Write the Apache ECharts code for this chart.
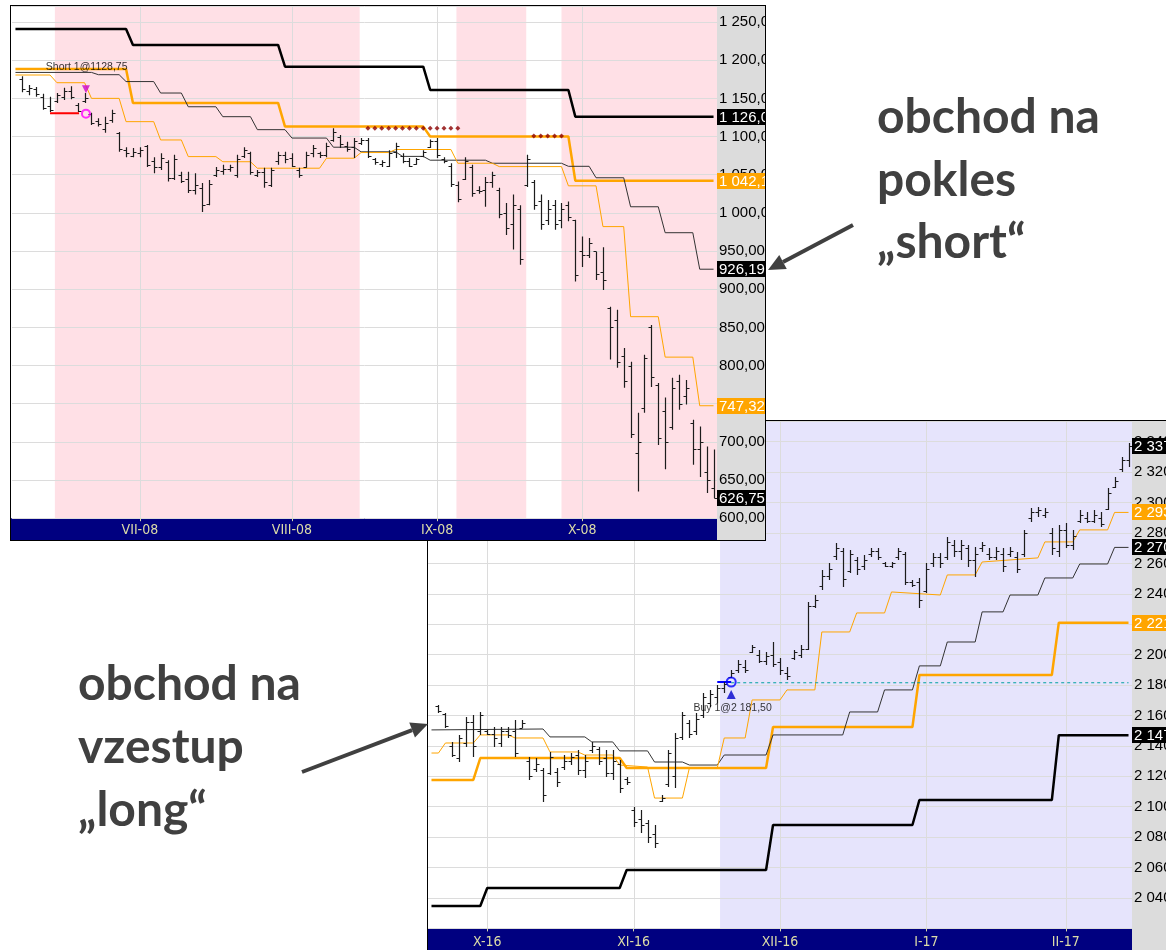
<!DOCTYPE html>
<html>
<head>
<meta charset="UTF-8" />
<title>obchod na pokles / vzestup</title>
<script src="https://cdn.jsdelivr.net/npm/echarts@6/dist/echarts.min.js"></script>
<style>
  html, body { margin: 0; padding: 0; width: 1166px; height: 950px; overflow: hidden; background: #fff; }
  #notes { position: absolute; left: 0; top: 0; width: 1166px; height: 950px; z-index: 3; pointer-events: none; }
  #longChart { position: absolute; left: 427px; top: 420px; width: 739px; height: 530px; box-sizing: border-box;
    border-left: 1px solid #000; border-top: 1px solid #000; background: #fff; z-index: 1; }
  #shortChart { position: absolute; left: 10px; top: 5px; width: 756px; height: 536px; box-sizing: border-box;
    border: 1px solid #000; background: #fff; z-index: 2; }
</style>
</head>
<body>
<div id="longChart"></div>
<div id="shortChart"></div>
<div id="notes"></div>
<script type="text/javascript">
// ---------- horní graf (2008, short) ----------
var topMonthIdx = [18, 40, 61, 82];
var topMonthLbl = ["VII-08", "VIII-08", "IX-08", "X-08"];
var topPink = [[5.7, 49.8], [63.8, 73.9], [79.0, 101.5]];
var topFirst = 1;
// [open, high, low, close]
var topBars = [
  [1176,1179,1158,1162],[1160,1167.5,1154,1163],[1162,1165,1152,1156],[1152,1156,1135,1138],[1140,1152,1132,1135],
  [1146,1157,1144,1155],[1152,1164,1148,1160],[1160,1166,1149,1152],[1141,1144,1132,1134],[1146,1157,1144,1150],
  [1129,1131,1115,1118],[1120,1124,1113,1116],[1110,1126,1105,1118],[1122,1135,1118,1131],[1104,1106,1080,1084],
  [1082,1086,1073,1078],[1075,1085,1073,1080],[1078,1086,1073,1083],[1087,1089,1060,1063],[1068,1073,1052,1060],
  [1060,1078,1056,1072],[1066,1069,1041,1046],[1046,1076,1043,1070],[1050,1054,1039,1042],[1045,1054,1026,1030],
  [1030,1052,1024,1036],[1032,1039,1001,1010],[1012,1043,1010,1038],[1050,1060,1047,1056],[1055,1063,1050,1058],
  [1058,1063,1054,1060],[1050,1076,1046,1070],[1075,1086,1072,1082],[1078,1080,1050,1054],[1050,1056,1047,1053],
  [1054,1059,1033,1040],[1036,1059,1034,1056],[1068,1080,1063,1076],[1076,1080,1065,1070],[1072,1078,1060,1062],
  [1056,1059,1046,1050],[1060,1080,1059,1076],[1078,1089,1073,1085],[1078,1080,1072,1076],[1076,1092,1073,1088],
  [1095,1111,1093,1106],[1100,1102,1085,1090],[1088,1093,1080,1084],[1086,1098,1072,1094],[1092,1098,1089,1096],
  [1096,1098,1072,1075],[1070,1072,1063,1066],[1064,1069,1060,1066],[1062,1082,1060,1078],[1080,1092,1072,1088],
  [1075,1078,1065,1068],[1068,1072,1060,1062],[1064,1072,1063,1070],[1075,1082,1073,1080],[1086,1096,1085,1094],
  [1094,1098,1072,1076],[1070,1073,1065,1068],[1062,1065,1034,1038],[1036,1041,1014,1018],[1045,1073,1043,1068],
  [1060,1063,1021,1026],[1030,1035,1025,1028],[1030,1047,1008,1040],[1040,1054,1033,1050],[1030,1033,993,998],
  [1000,1013,971,980],[985,1024,952,1010],[1005,1010,932,940],[1036,1076,1034,1070],[1040,1043,1004,1010],
  [1015,1024,978,985],[990,1017,984,1005],[1010,1017,978,985],[990,1013,980,1005],[1010,1015,989,995],
  [990,991,910,918],[950,969,929,945],[945,967,941,960],[950,949,912,920],[922,955,899,912],
  [875,877,808,850],[860,873,797,805],[812,823,771,780],[800,805,705,710],[685,738,635,700],
  [745,814,738,810],[850,853,772,785],[775,777,696,705],[740,758,664,700],[720,784,716,770],
  [780,788,742,750],[760,781,749,770],[725,729,670,690],[690,720,654,700],[660,694,633,650],
  [640,690,626,626.75]
];
var thickBlackTop = [[0,1240.8],[16,1240.8],[17,1220],[38,1220],[39,1191.5],[59,1191.5],[60,1161],[80,1161],[81,1126.05],[101,1126.05]];
var thickOrangeTop = [[0,1188.5],[16,1188.5],[17,1144],[38,1144],[39,1113],[59,1113],[60,1100],[80,1100],[81,1042.15],[101,1042.15]];
var thinBlackTop = [[0,1184],[11,1184],[12,1181],[15,1181],[16,1172],[20,1172],[21,1157],[24,1157],[25,1139],[29,1139],
  [30,1126],[34,1126],[35,1109],[39,1109],[40,1098],[45,1098],[46,1086],[49,1086],[50,1080],[55,1080],[56,1074],[59,1074],
  [60,1069],[68,1069],[69,1065],[79,1065],[80,1061],[83,1061],[84,1046],[88,1046],[89,1008],[93,1008],[94,974],[98,974],
  [99,926.19],[101,926.19]];
var thinOrangeTop = [[0,1180.6],[5,1180.6],[6,1170.5],[10,1170.5],[11,1150],[15,1150],[16,1119.5],[20,1119.5],[21,1095.5],
  [24,1095.5],[25,1073.7],[29,1073.7],[30,1067],[34,1067],[35,1058.5],[44,1058.5],[45,1071.6],[49,1071.6],[50,1079],[54,1079],
  [55,1083],[63,1083],[64,1065],[69,1065],[70,1060.6],[79,1060.6],[80,1035.4],[84,1035.4],[85,982],[88,982],[89,864],[93,864],
  [94,811],[98,811],[99,747.32],[101,747.32]];
var stopDots = [[51,1111],[52,1111],[53,1111],[54,1111],[55,1111],[56,1111],[57,1111],[58,1111],[59,1111],[60,1111],
  [61,1111],[62,1111],[63,1111],[64,1111],[75,1100.8],[76,1100.8],[77,1100.8],[78,1100.8],[79,1100.8]];
var shortEntryLine = [[5,1130.5],[9.2,1130.5]];
var shortSignal = [10.2, 1162];
var shortFill = [10.2, 1130];
var shortText = [10.3, 1191];

// ---------- dolní graf (2016/17, long) ----------
var longMonthIdx = [8, 29, 50, 71, 91];
var longMonthLbl = ["X-16", "XI-16", "XII-16", "I-17", "II-17"];
var longBlue = [[41.4, 100.5]];
var longFirst = 1;
var longBars = [
  [2166,2166.9,2161.6,2163],[2161,2161.6,2151.8,2153],[2140,2142.6,2132.7,2134],[2132,2147.2,2129.4,2145],[2142,2159,2139.3,2156],
  [2156,2160.3,2132.7,2140],[2150,2162.3,2147.2,2160],[2150,2150.5,2147.2,2148],[2148,2152.4,2139.3,2145],[2142,2152.4,2139.3,2150],
  [2150,2152.4,2145.2,2147],[2150,2157,2132.7,2135],[2152,2157,2151.8,2155],[2130,2132.7,2117.6,2120],[2125,2132,2122.8,2128],
  [2124,2125.5,2103.1,2108],[2122,2136,2120.9,2133],[2123,2125.5,2113,2116],[2126,2134,2124.2,2130],[2130,2135.3,2127.4,2133],
  [2134,2137.3,2120.9,2124],[2124,2134,2118.9,2130],[2137,2142.6,2135.3,2140],[2138,2139.3,2127.4,2130],[2132,2137.3,2119.6,2122],
  [2122,2137.3,2117.6,2130],[2128,2130.7,2109,2112],[2118,2119.6,2114.3,2116],[2098,2099.8,2086.7,2090],[2092,2097.9,2082.7,2088],
  [2089,2091.3,2076.2,2080],[2082,2088,2072.9,2076],[2104,2107.7,2103.1,2106],[2115,2137.3,2113,2135],[2120,2148.5,2112.3,2145],
  [2146,2162.3,2143.9,2160],[2155,2157,2145.2,2148],[2150,2161.6,2147.2,2158],[2160,2174.8,2158.4,2172],[2168,2176.8,2165.6,2174],
  [2172,2180,2168.2,2178],[2178,2182,2174.8,2181],[2185,2189.9,2184.7,2188],[2190,2196.5,2187.9,2194],[2192,2196.5,2187.9,2190],
  [2202,2206.3,2201.1,2205],[2200,2203.1,2194.5,2196],[2196,2201.8,2193.2,2199],[2200,2208.3,2191.9,2194],[2195,2197.8,2186.6,2190],
  [2188,2191.9,2183.3,2186],[2198,2203.1,2196.5,2202],[2200,2206.3,2197.8,2204],[2204,2234.6,2203.1,2232],[2232,2239.2,2230.7,2236],
  [2245,2255.7,2242.5,2252],[2252,2260.3,2249.1,2256],[2265,2273.4,2262.2,2270],[2268,2270.1,2244.5,2250],[2255,2268.8,2253.7,2266],
  [2262,2264.2,2252.4,2256],[2258,2265.5,2255.7,2262],[2266,2270.1,2264.2,2268],[2268,2270.1,2262.2,2264],[2260,2260.9,2257.6,2258],
  [2258,2260.9,2257,2260],[2264,2270.1,2262.2,2268],[2266,2267.5,2245.8,2248],[2248,2249.1,2244.5,2246],[2248,2250.4,2230.7,2236],
  [2242,2260.3,2240.5,2256],[2260,2266.8,2257.6,2264],[2264,2266.8,2257,2260],[2264,2277.4,2262.2,2274],[2272,2275.4,2264.2,2268],
  [2268,2275.4,2262.2,2272],[2270,2272.1,2257.6,2262],[2262,2270.8,2251.1,2266],[2270,2274.1,2267.5,2272],[2266,2270.1,2262.2,2264],
  [2264,2270.8,2262.2,2268],[2266,2270.1,2254.3,2258],[2266,2270.8,2264.2,2268],[2264,2267.5,2253.7,2256],[2266,2282,2264.2,2280],
  [2290,2296.4,2287.2,2294],[2294,2297.1,2290.5,2295],[2292,2296.4,2289.9,2294],[2280,2283.3,2265.5,2270],[2268,2285.2,2264.2,2282],
  [2282,2286.6,2270.1,2272],[2272,2282,2268.8,2278],[2288,2295.1,2286.6,2292],[2290,2293.8,2286.6,2288],[2288,2295.1,2286.6,2292],
  [2290,2293.8,2283.9,2286],[2296,2309.6,2295.1,2306],[2310,2316.8,2309.6,2314],[2322,2330,2320.1,2328],[2328,2339.2,2323.4,2337.25]
];
var thickBlackLong = [[0,2034.7],[7,2034.7],[8,2046.6],[27,2046.6],[28,2058.4],[48,2058.4],[49,2088],[69,2088],[70,2104.4],[89,2104.4],[90,2147],[100,2147]];
var thickOrangeLong = [[0,2117.6],[6,2117.6],[7,2132],[27,2132],[28,2125.5],[48,2125.5],[49,2152.4],[69,2152.4],[70,2186.6],[89,2186.6],[90,2221],[100,2221]];
var thinBlackLong = [[0,2150.5],[16,2151.1],[17,2145.9],[22,2145.9],[23,2142.6],[26,2142.6],[27,2136.7],[31,2136.7],[32,2129.4],
  [36,2129.4],[37,2127.4],[41,2127.4],[42,2134],[48,2134],[49,2147.2],[59,2147.2],[60,2162.3],[64,2162.3],[65,2176.8],[69,2176.8],
  [70,2192.6],[73,2192.6],[74,2208.3],[78,2208.3],[79,2228.1],[82,2228.1],[83,2239.2],[87,2239.2],[88,2250.4],[92,2250.4],
  [93,2259.6],[97,2259.6],[98,2270.5],[100,2270.5]];
var thinOrangeLong = [[0,2135.3],[1,2135.3],[2,2141.9],[6,2141.9],[7,2147.2],[11,2147.2],[12,2145.2],[16,2145.2],[17,2136],[21,2136],
  [22,2134],[26,2134],[27,2127.4],[31,2126.1],[32,2105.7],[36,2105.7],[37,2125.5],[41,2125.5],[42,2145.2],[45,2145.2],[46,2170.2],
  [50,2170.2],[51,2176.8],[55,2176.8],[56,2214.9],[60,2214.9],[61,2227.4],[65,2227.4],[66,2241.2],[73,2239.2],[74,2252.4],[78,2252.4],
  [79,2260.9],[87,2263.6],[88,2274.1],[92,2274.1],[93,2282],[97,2282],[98,2293.5],[100,2293.5]];
var longEntryLine = [[41,2182],[43,2182]];
var longStopLine = [[43,2181.5],[100,2181.5]];
var longSignal = [43, 2173.7];
var longFill = [43, 2182];
var longText = [43.2, 2164.9];

var ORANGE = "#ffa500";
var AXIS_FONT = '"Liberation Sans", Arial, sans-serif';
var DATE_FONT = '"Liberation Sans Narrow", "DejaVu Sans Condensed", sans-serif';

function fmt(v) {
  var p = v.toFixed(2).split(".");
  return p[0].replace(/\B(?=(\d{3})+(?!\d))/g, " ") + "," + p[1];
}
function last(a) { return a[a.length - 1]; }

function ohlcSeries(first, bars) {
  return {
    type: "custom", z: 5, clip: true, silent: true,
    encode: { x: 0, y: [1, 2, 3, 4] },
    data: bars.map(function (b, k) { return [first + k, b[0], b[1], b[2], b[3]]; }),
    renderItem: function (params, api) {
      var i = api.value(0);
      var o = api.coord([i, api.value(1)]);
      var h = api.coord([i, api.value(2)]);
      var l = api.coord([i, api.value(3)]);
      var c = api.coord([i, api.value(4)]);
      var x = Math.round(h[0]) + 0.5;
      var yo = Math.round(o[1]) + 0.5, yc = Math.round(c[1]) + 0.5;
      var st = { stroke: "#1c1c1c", lineWidth: 1.2 };
      return { type: "group", children: [
        { type: "line", shape: { x1: x, y1: h[1], x2: x, y2: l[1] }, style: st },
        { type: "line", shape: { x1: x - 3, y1: yo, x2: x, y2: yo }, style: st },
        { type: "line", shape: { x1: x, y1: yc, x2: x + 3, y2: yc }, style: st }
      ] };
    }
  };
}

function shadeSeries(regions, color) {
  return {
    type: "custom", z: -2, clip: true, silent: true,
    data: regions,
    renderItem: function (params, api) {
      var cs = params.coordSys;
      var a = api.coord([api.value(0), 0]);
      var b = api.coord([api.value(1), 0]);
      return { type: "rect", shape: { x: a[0], y: cs.y, width: b[0] - a[0], height: cs.height }, style: { fill: color } };
    }
  };
}

function monthLineSeries(idx) {
  return {
    type: "custom", z: -1, clip: true, silent: true,
    data: idx.map(function (v) { return [v, 0]; }),
    renderItem: function (params, api) {
      var cs = params.coordSys;
      var x = Math.round(api.coord([api.value(0), 0])[0]) + 0.5;
      return { type: "line", shape: { x1: x, y1: cs.y, x2: x, y2: cs.y + cs.height }, style: { stroke: "#dcdcdc", lineWidth: 1 } };
    }
  };
}

function lineSeries(data, color, width, z, dashed) {
  return {
    type: "line", data: data, z: z || 3, silent: true,
    symbol: "none", showSymbol: false,
    lineStyle: { color: color, width: width, type: dashed ? [3, 3] : "solid" }
  };
}

function tagSeries(tags) {
  return {
    type: "custom", z: 8, clip: false, silent: true,
    data: tags.map(function (t) { return [0, t.v]; }),
    renderItem: function (params, api) {
      var t = tags[params.dataIndex];
      var cs = params.coordSys;
      var y = Math.round(api.coord([0, api.value(1)])[1]);
      var x = cs.x + cs.width;
      return { type: "group", children: [
        { type: "rect", shape: { x: x, y: y - 8, width: 80, height: 16 }, style: { fill: t.bg } },
        { type: "text", x: x + 2, y: y + 1, style: { text: fmt(t.v), fill: t.fg, font: "15px " + AXIS_FONT,
          textVerticalAlign: "middle", verticalAlign: "middle" } }
      ] };
    }
  };
}

function xAxisOf(maxIdx, idx, lbl, margin) {
  return {
    type: "value", min: -0.5, max: maxIdx + 0.5,
    axisLine: { show: false },
    axisTick: { show: true, customValues: idx, length: 3, lineStyle: { color: "#d8d8b0" } },
    axisLabel: {
      customValues: idx, margin: margin, color: "#dcdca8", fontSize: 14, fontFamily: DATE_FONT,
      formatter: function (v) { var k = idx.indexOf(v); return k < 0 ? "" : lbl[k]; }
    },
    splitLine: { show: false }
  };
}

function yAxisOf(min, max, step, showMin) {
  return {
    type: "value", position: "right", min: min, max: max, interval: step,
    axisLine: { show: false }, axisTick: { show: false },
    axisLabel: { formatter: fmt, align: "left", margin: 2, color: "#000", fontSize: 15, fontFamily: AXIS_FONT,
      showMaxLabel: false, showMinLabel: showMin },
    splitLine: { show: true, lineStyle: { color: "#dcdcdc", width: 1 } }
  };
}

// ----- horní graf -----
var shortDom = document.getElementById("shortChart");
var shortChart = echarts.init(shortDom);
var sW = shortDom.clientWidth, sH = shortDom.clientHeight;
var sGrid = { left: 1, right: 48, top: 0, bottom: 21.8 };
shortChart.setOption({
  animation: false,
  grid: { left: sGrid.left, right: sGrid.right, top: sGrid.top, bottom: sGrid.bottom, outerBoundsMode: "none" },
  graphic: [
    { type: "rect", z: -10, shape: { x: sW - sGrid.right, y: 0, width: sGrid.right, height: sH }, style: { fill: "#dcdcdc" } },
    { type: "rect", z: -10, shape: { x: 0, y: sH - sGrid.bottom, width: sW - sGrid.right, height: sGrid.bottom }, style: { fill: "#000080" } }
  ],
  xAxis: xAxisOf(101, topMonthIdx, topMonthLbl, 5),
  yAxis: yAxisOf(600, 1271, 50, true),
  series: [
    shadeSeries(topPink, "#ffe0e6"),
    monthLineSeries(topMonthIdx),
    lineSeries(thickBlackTop, "#000", 2.5),
    lineSeries(thickOrangeTop, ORANGE, 2.5),
    lineSeries(thinBlackTop, "#333", 1),
    lineSeries(thinOrangeTop, ORANGE, 1),
    lineSeries(shortEntryLine, "#ff0000", 2, 4),
    ohlcSeries(topFirst, topBars),
    { type: "scatter", z: 6, silent: true, symbol: "diamond", symbolSize: 5, itemStyle: { color: "#8b0000" }, data: stopDots },
    { type: "scatter", z: 7, silent: true, symbol: "triangle", symbolRotate: 180, symbolSize: 8,
      itemStyle: { color: "#cc00cc" }, data: [shortSignal] },
    { type: "scatter", z: 7, silent: true, symbol: "circle", symbolSize: 8,
      itemStyle: { color: "rgba(0,0,0,0)", borderColor: "#ff00ff", borderWidth: 2 }, data: [shortFill] },
    { type: "scatter", z: 7, silent: true, symbolSize: 0, data: [shortText],
      label: { show: true, position: "inside", formatter: "Short 1@1128,75", color: "#000", fontSize: 10.5, fontFamily: AXIS_FONT } },
    tagSeries([
      { v: last(thickBlackTop)[1], bg: "#000", fg: "#fff" },
      { v: last(thickOrangeTop)[1], bg: ORANGE, fg: "#fff" },
      { v: last(thinBlackTop)[1], bg: "#000", fg: "#fff" },
      { v: last(thinOrangeTop)[1], bg: ORANGE, fg: "#fff" },
      { v: last(topBars)[3], bg: "#000", fg: "#fff" }
    ])
  ]
});

// ----- dolní graf -----
var longDom = document.getElementById("longChart");
var longChart = echarts.init(longDom);
var lW = longDom.clientWidth, lH = longDom.clientHeight;
var lGrid = { left: 0, right: 34, top: 0, bottom: 21.6 };
longChart.setOption({
  animation: false,
  grid: { left: lGrid.left, right: lGrid.right, top: lGrid.top, bottom: lGrid.bottom, outerBoundsMode: "none" },
  graphic: [
    { type: "rect", z: -10, shape: { x: lW - lGrid.right, y: 0, width: lGrid.right, height: lH }, style: { fill: "#dcdcdc" } },
    { type: "rect", z: -10, shape: { x: 0, y: lH - lGrid.bottom, width: lW - lGrid.right, height: lGrid.bottom }, style: { fill: "#000080" } }
  ],
  xAxis: xAxisOf(100, longMonthIdx, longMonthLbl, 7),
  yAxis: yAxisOf(2020, 2353.6, 20, false),
  series: [
    shadeSeries(longBlue, "#e6e4fc"),
    monthLineSeries(longMonthIdx),
    lineSeries(thickBlackLong, "#000", 2.5),
    lineSeries(thickOrangeLong, ORANGE, 2.5),
    lineSeries(thinBlackLong, "#333", 1),
    lineSeries(thinOrangeLong, ORANGE, 1),
    lineSeries(longStopLine, "#00a0a0", 1, 4, true),
    lineSeries(longEntryLine, "#0000ff", 2, 4),
    ohlcSeries(longFirst, longBars),
    { type: "scatter", z: 7, silent: true, symbol: "triangle", symbolSize: 9,
      itemStyle: { color: "#0000cc" }, data: [longSignal] },
    { type: "scatter", z: 7, silent: true, symbol: "circle", symbolSize: 9,
      itemStyle: { color: "rgba(0,0,0,0)", borderColor: "#0000ff", borderWidth: 2 }, data: [longFill] },
    { type: "scatter", z: 7, silent: true, symbolSize: 0, data: [longText],
      label: { show: true, position: "inside", formatter: "Buy 1@2 181,50", color: "#000", fontSize: 10.5, fontFamily: AXIS_FONT } },
    tagSeries([
      { v: last(longBars)[3], bg: "#000", fg: "#fff" },
      { v: last(thinOrangeLong)[1], bg: ORANGE, fg: "#fff" },
      { v: last(thinBlackLong)[1], bg: "#000", fg: "#fff" },
      { v: last(thickOrangeLong)[1], bg: ORANGE, fg: "#fff" },
      { v: last(thickBlackLong)[1], bg: "#000", fg: "#fff" }
    ])
  ]
});

// ----- popisky a šipky -----
var notes = echarts.init(document.getElementById("notes"));
var NOTE_FONT = "bold 48px Lato, 'Open Sans', sans-serif";
var NOTE_COLOR = "#404040";
function noteText(txt, x, y) {
  return { type: "text", x: x, y: y, style: { text: txt, font: NOTE_FONT, fill: NOTE_COLOR,
    textVerticalAlign: "middle", verticalAlign: "middle" } };
}
function arrow(x1, y1, x2, y2) {
  var dx = x2 - x1, dy = y2 - y1, len = Math.sqrt(dx * dx + dy * dy);
  var ux = dx / len, uy = dy / len, hl = 17, hw = 8;
  var bx = x2 - ux * hl, by = y2 - uy * hl;
  return [
    { type: "line", shape: { x1: x1, y1: y1, x2: bx, y2: by }, style: { stroke: NOTE_COLOR, lineWidth: 4 } },
    { type: "polygon", shape: { points: [[x2, y2], [bx - uy * hw, by + ux * hw], [bx + uy * hw, by - ux * hw]] },
      style: { fill: NOTE_COLOR } }
  ];
}
notes.setOption({
  animation: false,
  graphic: [
    noteText("obchod na", 877, 118),
    noteText("pokles", 877, 181),
    noteText("\u201Eshort\u201C", 877, 243),
    noteText("obchod na", 78, 685),
    noteText("vzestup", 78, 748),
    noteText("\u201Elong\u201C", 78, 811)
  ].concat(arrow(853, 225, 768, 270)).concat(arrow(302, 772, 428, 724))
});
</script>
</body>
</html>
